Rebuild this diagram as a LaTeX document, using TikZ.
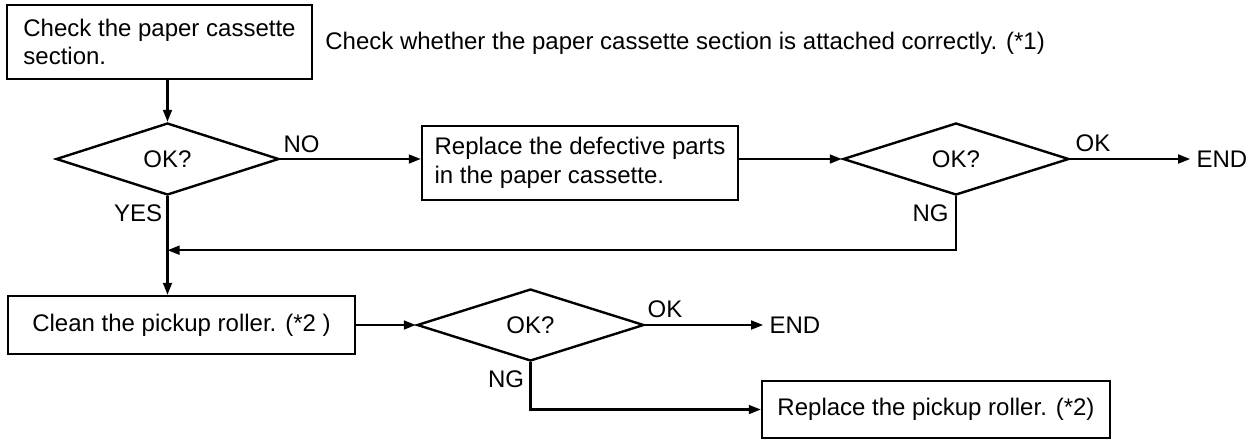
\documentclass[tikz,border=0pt]{standalone}
\usepackage{fontspec}
\setmainfont{Liberation Sans}
\usetikzlibrary{positioning,arrows.meta,shapes.geometric}

\begin{document}
\begin{tikzpicture}[
  x=0.5pt, y=-0.5pt,
  every node/.style={font=\fontsize{12}{14.4}\selectfont},
  box/.style={rectangle, draw, line width=1.2pt, align=left, inner sep=0pt},
  dec/.style={diamond, draw, line width=1.2pt, inner sep=0pt, minimum width=112pt, minimum height=36pt},
  lbl/.style={inner sep=0pt},
  arr/.style={-{Triangle[length=6pt,width=4.4pt]}, line width=1.1pt}
]
\useasboundingbox (0,0) rectangle (1253,441);
\node[box, minimum width=152.5pt, minimum height=37pt] (chk) at (159.5,42) {Check the paper cassette\\section.};
\node[lbl, anchor=west] (note) at (325,43) {Check whether the paper cassette section is attached correctly. (*1)};
\node[dec, minimum width=111.5pt] (okA) at (167.5,159) {OK?};
\node[box, minimum width=158pt, minimum height=37pt] (fix) at (580,163) {Replace the defective parts\\in the paper cassette.};
\node[dec, minimum width=113pt] (okB) at (956,159) {OK?};
\node[lbl, right=63pt of okB] (endA) {END};
\node[box, minimum width=173.5pt, minimum height=29pt, align=center] (clean) at (181.5,325) {Clean the pickup roller. (*2 )};
\node[dec, minimum width=113.5pt] (okC) at (530.5,325) {OK?};
\node[lbl, right=62pt of okC] (endB) {END};
\node[box, minimum width=174pt, minimum height=28.5pt, align=center] (rep) at (936,409.5) {Replace the pickup roller. (*2)};

\node[lbl, above right=3pt and 1.5pt of okA.east] (noA) {NO};
\node[lbl, below left=4pt and 2.5pt of okA.south] (yesA) {YES};
\node[lbl, above right=3.5pt and 2.5pt of okB.east] (okLabB) {OK};
\node[lbl, below left=4pt and 3.5pt of okB.south] (ngB) {NG};
\node[lbl, above right=3.5pt and 1pt of okC.east] (okLabC) {OK};
\node[lbl, below left=4pt and 3pt of okC.south] (ngC) {NG};

\coordinate[below=27pt of okB.south] (back);

\draw[arr] (chk.south -| okA.north) -- (okA.north);
\draw[arr] (okA.east) -- (okA.east -| fix.west);
\draw[arr] (fix.east |- okB.west) -- (okB.west);
\draw[arr, shorten >=3pt] (okB.east) -- (endA.west);
\draw[arr] (okB.south) -- (back) -- (back -| okA.south);
\draw[arr] (okA.south) -- (okA.south |- clean.north);
\draw[arr] (clean) -- (okC);
\draw[arr, shorten >=3pt] (okC.east) -- (endB.west);
\draw[arr] (okC.south) |- (rep.west);
\end{tikzpicture}
\end{document}
